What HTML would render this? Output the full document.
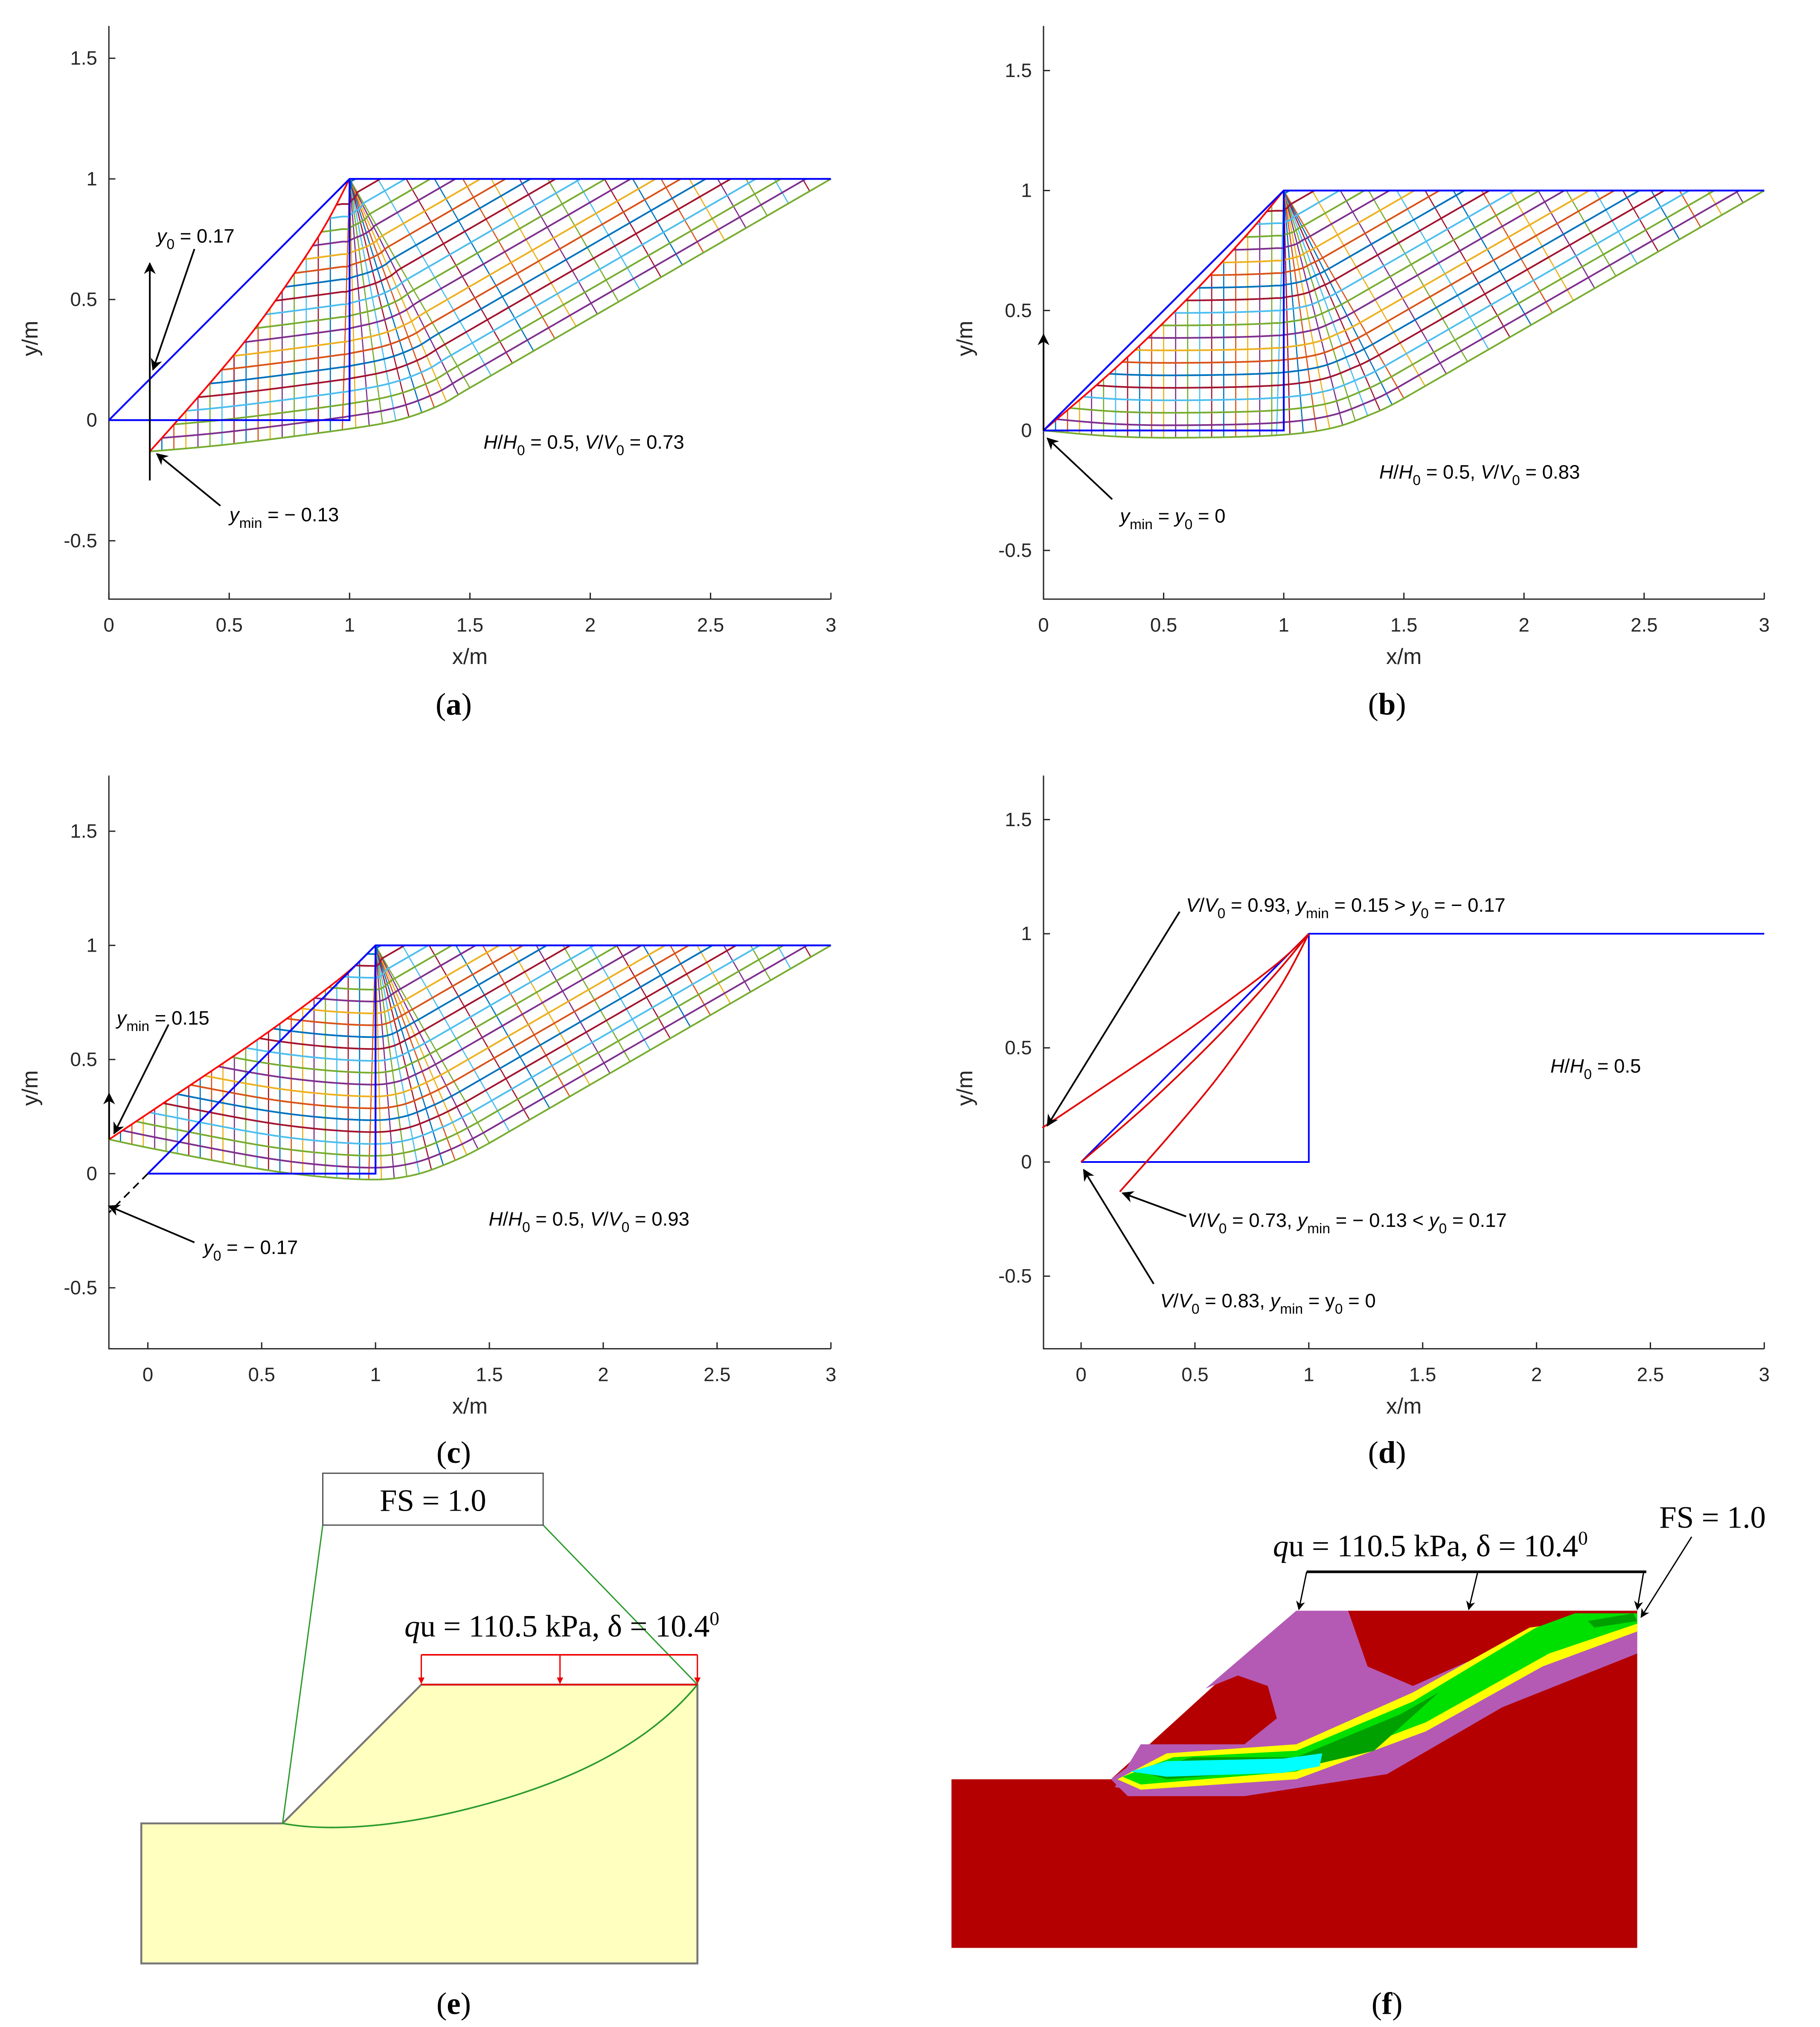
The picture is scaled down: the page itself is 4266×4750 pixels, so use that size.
<!DOCTYPE html>
<html><head><meta charset="utf-8"><style>
html,body{margin:0;padding:0;background:#fff}
svg{display:block}
text{font-family:"Liberation Sans",sans-serif}
.serif{font-family:"Liberation Serif",serif}
</style></head>
<body>
<svg id="fig" xmlns="http://www.w3.org/2000/svg" width="4266" height="4750" viewBox="0 0 1404 1563" preserveAspectRatio="none">
<defs>
<marker id="ah" viewBox="0 0 10 10" refX="9" refY="5" markerWidth="7" markerHeight="7" orient="auto-start-reverse"><path d="M0,0 L10,5 L0,10 L3,5 z" fill="#000"/></marker>
<marker id="ahr" viewBox="0 0 10 10" refX="9" refY="5" markerWidth="5" markerHeight="5" orient="auto"><path d="M0,0 L10,5 L0,10 z" fill="#e00"/></marker>
</defs>
<g id="charts"></g>
<g id="panel-e">
  <polygon points="109,1406 218,1406 325,1299 538,1299 538,1514 109,1514" fill="#FFFFC0" stroke="#777" stroke-width="1.5"/>
  <path d="M218,1406 C250,1412 300,1410 360,1395 C440,1375 500,1345 538,1299" fill="none" stroke="#2a9a2a" stroke-width="1.2"/>
  <line x1="249" y1="1176" x2="218" y2="1406" stroke="#2a9a2a" stroke-width="1"/>
  <line x1="419" y1="1176" x2="538" y2="1299" stroke="#2a9a2a" stroke-width="1"/>
  <rect x="249" y="1136" width="170" height="40" fill="#fff" stroke="#555" stroke-width="1"/>
  <text class="serif" x="334" y="1165" font-size="24" text-anchor="middle">FS = 1.0</text>
  <line x1="325" y1="1276" x2="538" y2="1276" stroke="#e00" stroke-width="1.2"/>
  <line x1="325" y1="1276" x2="325" y2="1298" stroke="#e00" marker-end="url(#ahr)"/>
  <line x1="432" y1="1276" x2="432" y2="1298" stroke="#e00" marker-end="url(#ahr)"/>
  <line x1="538" y1="1276" x2="538" y2="1298" stroke="#e00" marker-end="url(#ahr)"/>
  <line x1="325" y1="1299" x2="538" y2="1299" stroke="#e00" stroke-width="1.2"/>
  <text class="serif" x="312" y="1262" font-size="24"><tspan font-style="italic">q</tspan>u = 110.5 kPa, δ = 10.4<tspan font-size="15" dy="-9">0</tspan></text>
</g>
<g id="panel-f">
  <polygon points="734,1372 857,1372 1000,1242 1263,1242 1263,1502 734,1502" fill="#B40000"/>
  <path d="M930,1302 L1000,1242 L1040,1242 L1055,1285 L1090,1300 L1180,1260 L1263,1245 L1263,1275 L1150,1320 L1050,1365 L960,1380 L890,1383 L860,1378 L880,1345 L960,1345 L985,1325 L978,1300 L955,1292 Z" fill="#B45AB4"/>
  <path d="M857,1372 L880,1355 L960,1350 L1060,1335 L1160,1280 L1263,1250 L1263,1265 L1170,1310 L1070,1368 L960,1385 L870,1385 Z" fill="#B45AB4"/>
  <path d="M862,1372 L900,1352 L1000,1345 L1090,1305 L1180,1255 L1263,1244 L1263,1258 L1190,1285 L1100,1335 L1000,1372 L880,1380 Z" fill="#FFFF00"/>
  <path d="M866,1370 L905,1355 L1000,1350 L1090,1312 L1185,1255 L1215,1244 L1263,1244 L1263,1252 L1195,1275 L1100,1328 L1000,1366 L880,1376 Z" fill="#00E000"/>
  <path d="M880,1366 L920,1355 L1000,1355 L1080,1322 L1110,1305 L1060,1350 L1000,1364 L900,1372 Z" fill="#00A000"/>
  <path d="M1225,1250 L1260,1244 L1263,1250 L1230,1255 Z" fill="#00A000"/>
  <path d="M872,1366 L900,1358 L990,1356 L1020,1352 L1018,1362 L990,1367 L900,1370 Z" fill="#00FFFF"/>
  <line x1="1008" y1="1212" x2="1270" y2="1212" stroke="#000" stroke-width="2"/>
  <line x1="1008" y1="1212" x2="1002" y2="1241" stroke="#000" marker-end="url(#ah)"/>
  <line x1="1140" y1="1212" x2="1133" y2="1241" stroke="#000" marker-end="url(#ah)"/>
  <line x1="1268" y1="1212" x2="1263" y2="1241" stroke="#000" marker-end="url(#ah)"/>
  <line x1="1305" y1="1185" x2="1266" y2="1247" stroke="#000" marker-end="url(#ah)"/>
  <text class="serif" x="982" y="1200" font-size="24"><tspan font-style="italic">q</tspan>u = 110.5 kPa, δ = 10.4<tspan font-size="15" dy="-9">0</tspan></text>
  <text class="serif" x="1280" y="1178" font-size="24">FS = 1.0</text>
</g>
<g class="serif" font-size="24">
  <text class="serif" x="350" y="551" text-anchor="middle">(<tspan font-weight="bold">a</tspan>)</text>
  <text class="serif" x="1070" y="551" text-anchor="middle">(<tspan font-weight="bold">b</tspan>)</text>
  <text class="serif" x="350" y="1128" text-anchor="middle">(<tspan font-weight="bold">c</tspan>)</text>
  <text class="serif" x="1070" y="1128" text-anchor="middle">(<tspan font-weight="bold">d</tspan>)</text>
  <text class="serif" x="350" y="1553" text-anchor="middle">(<tspan font-weight="bold">e</tspan>)</text>
  <text class="serif" x="1070" y="1553" text-anchor="middle">(<tspan font-weight="bold">f</tspan>)</text>
</g>
</svg>
<script>
// ---- data ----
const xTicksAB = [0, 0.5, 1, 1.5, 2, 2.5, 3];
const xTicksCD = [0, 0.5, 1, 1.5, 2, 2.5, 3];
const yTicks = [-0.5, 0, 0.5, 1, 1.5];
const slopeOutline = [[0,0],[1,1],[3,1]];
const baseOutline = [[0,0],[1,0],[1,1]];
const crestPoint = [1, 1];
const passiveStart = [1.5, 0.134];
const passiveEnd = [3, 1];
const tangentGuide = [1.8, 0.307];
// panel a
const aTop = [[0.17,-0.13],[0.4,0.13],[0.63,0.41],[0.87,0.76],[1,1]];
const aBottom = [[0.17,-0.13],[0.5,-0.10],[0.97,-0.04],[1.2,0.0],[1.37,0.06],[1.5,0.134]];
// panel b
const bTop = [[0,0],[0.3,0.26],[0.6,0.55],[0.85,0.82],[1,1]];
const bBottom = [[0,0],[0.3,-0.025],[0.6,-0.03],[0.97,-0.02],[1.2,0.01],[1.37,0.07],[1.5,0.134]];
// panel c
const cTop = [[-0.17,0.15],[0.07,0.31],[0.5,0.6],[0.85,0.86],[1,1]];
const cBottom = [[-0.17,0.15],[0.07,0.1],[0.56,0.01],[0.94,-0.025],[1.15,-0.01],[1.33,0.05],[1.5,0.134]];
// panel d curves
const dCurveUpper = [[-0.17,0.15],[0.07,0.31],[0.5,0.6],[0.85,0.86],[1,1]];
const dCurveMid = [[0,0],[0.3,0.26],[0.6,0.55],[0.85,0.82],[1,1]];
const dCurveLower = [[0.17,-0.13],[0.4,0.13],[0.63,0.41],[0.87,0.76],[1,1]];

const COLORS = ['#0072BD','#D95319','#EDB120','#7E2F8E','#77AC30','#4DBEEE','#A2142F'];
const NS = 'http://www.w3.org/2000/svg';
const root = document.getElementById('charts');

function mk(tag, attrs, parent){const e=document.createElementNS(NS,tag);for(const k in attrs)e.setAttribute(k,attrs[k]);parent.appendChild(e);return e;}

function makeAxes(L){
  const sx = v => L.px0 + (v - L.xmin)/(L.xmax - L.xmin)*(L.px1 - L.px0);
  const sy = v => L.py0 - (v - L.ymin)/(L.ymax - L.ymin)*(L.py0 - L.py1);
  return {sx, sy};
}
function drawAxes(g, L, ax, xt){
  const a = mk('path',{d:`M${L.px0},${L.py1} L${L.px0},${L.py0} L${L.px1},${L.py0}`,fill:'none',stroke:'#262626','stroke-width':1},g);
  
  
  xt.forEach(v=>{
    const x=ax.sx(v);
    mk('line',{x1:x,y1:L.py0,x2:x,y2:L.py0-5,stroke:'#262626'},g);
    const t=mk('text',{x:x,y:L.py0+25,'font-size':15,'text-anchor':'middle',fill:'#262626'},g);
    
    
    t.textContent=String(v);
  });
  yTicks.forEach(v=>{
    const y=ax.sy(v);
    mk('line',{x1:L.px0,y1:y,x2:L.px0+5,y2:y,stroke:'#262626'},g);
    const t=mk('text',{x:L.px0-9,y:y+5,'font-size':15,'text-anchor':'end',fill:'#262626'},g);
    
    
    t.textContent=(v<0?'-':'')+String(Math.abs(v));
  });
  const xl=mk('text',{x:(L.px0+L.px1)/2,y:L.py0+50,'font-size':17,'text-anchor':'middle',fill:'#262626'},g);
  
  
  xl.textContent='x/m';
  const yx=L.px0-55, yy=(L.py0+L.py1)/2+20;
  const yl=mk('text',{x:yx,y:yy,'font-size':17,'text-anchor':'middle',fill:'#262626',transform:`rotate(-90 ${yx} ${yy})`},g);
  
  
  yl.textContent='y/m';
}
function poly(g, pts, ax, color, w, name, dash){
  const p=mk('polyline',{points:pts.map(p=>ax.sx(p[0]).toFixed(2)+','+ax.sy(p[1]).toFixed(2)).join(' '),fill:'none',stroke:color,'stroke-width':w||1},g);
  if(dash)p.setAttribute('stroke-dasharray',dash);
  
  
  return p;
}
function smooth(pts,n){
  const out=[];
  for(let i=0;i<pts.length-1;i++){
    const p0=pts[Math.max(i-1,0)],p1=pts[i],p2=pts[i+1],p3=pts[Math.min(i+2,pts.length-1)];
    for(let k=0;k<n;k++){const t=k/n,t2=t*t,t3=t2*t;
      out.push([0,1].map(j=>0.5*((2*p1[j])+(-p0[j]+p2[j])*t+(2*p0[j]-5*p1[j]+4*p2[j]-p3[j])*t2+(-p0[j]+3*p1[j]-3*p2[j]+p3[j])*t3)));}
  }
  out.push(pts[pts.length-1]);return out;
}
function resample(pts,n){
  const d=[0];for(let i=1;i<pts.length;i++)d.push(d[i-1]+Math.hypot(pts[i][0]-pts[i-1][0],pts[i][1]-pts[i-1][1]));
  const T=d[d.length-1],out=[];
  for(let k=0;k<n;k++){const s=T*k/(n-1);let i=1;while(i<d.length-1&&d[i]<s)i++;
    const f=(s-d[i-1])/((d[i]-d[i-1])||1);out.push([pts[i-1][0]+f*(pts[i][0]-pts[i-1][0]),pts[i-1][1]+f*(pts[i][1]-pts[i-1][1])]);}
  return out;
}
function yAt(c,x){
  if(x<=c[0][0])return c[0][1];
  for(let i=1;i<c.length;i++){if(c[i][0]>=x){const f=(x-c[i-1][0])/((c[i][0]-c[i-1][0])||1);return c[i-1][1]+f*(c[i][1]-c[i-1][1]);}}
  return c[c.length-1][1];
}
function mesh(g, ax, top, bottom){
  const C=crestPoint,P=passiveStart,E=passiveEnd;
  const R=smooth(top,12);
  const Bc=smooth(bottom.concat([tangentGuide]),12).filter(p=>p[0]<=P[0]+1e-9);
  if(Bc[Bc.length-1][0]<P[0]-1e-9)Bc.push(P);
  const toeX=bottom[0][0], xw=0.97, step=0.05, dStep=0.052;
  const L0=Math.hypot(E[0]-P[0],E[1]-P[1]);
  const dir=[(E[0]-P[0])/L0,(E[1]-P[1])/L0], nrm=[-dir[1],dir[0]];
  const fanPts=[[xw,yAt(Bc,xw)]].concat(Bc.filter(p=>p[0]>xw));
  const fanRays=resample(fanPts,11);
  const fanFine=resample(fanPts,60);
  let ci=0;
  for(let x=toeX+step;x<xw-0.005;x+=step){
    const yt=yAt(R,x),yb=yAt(Bc,x);
    if(yt>yb)poly(g,[[x,yt],[x,yb]],ax,COLORS[(ci++)%7],0.9,'mesh-wedge-line');
  }
  fanRays.forEach(b=>{poly(g,[C,b],ax,COLORS[(ci++)%7],0.9,'mesh-fan-ray');});
  const nP=17;
  for(let j=1;j<nP;j++){
    const b=[P[0]+(E[0]-P[0])*j/nP,P[1]+(E[1]-P[1])*j/nP];
    const len=(1-b[1])/nrm[1];
    poly(g,[b,[b[0]+nrm[0]*len,1]],ax,COLORS[(ci++)%7],0.9,'mesh-passive-line');
  }
  const K=Math.floor(1.05/dStep);
  for(let k=1;k<=K;k++){
    const d=k*dStep,pts=[];
    let prevIn=false,prev=null;
    for(let x=toeX;x<=xw+1e-9;x+=0.01){
      const yb=yAt(Bc,x)+d,yr=yAt(R,x);
      const inside=yb<=yr;
      if(inside&&!prevIn&&prev){const f=prev.diff/(prev.diff-(yr-yb));pts.push([prev.x+f*0.01,prev.yb+f*(yb-prev.yb)]);}
      if(inside)pts.push([x,yb]);
      prevIn=inside;prev={x:x,yb:yb,diff:yr-yb};
    }
    fanFine.forEach(b=>{const L=Math.hypot(C[0]-b[0],C[1]-b[1]);if(d<L)pts.push([b[0]+(C[0]-b[0])*d/L,b[1]+(C[1]-b[1])*d/L]);});
    for(let t=0;t<=1.0001;t+=0.02){
      const b=[P[0]+(E[0]-P[0])*t,P[1]+(E[1]-P[1])*t];
      const q=[b[0]+nrm[0]*d,b[1]+nrm[1]*d];
      if(q[1]<=1)pts.push(q);else{const last=pts[pts.length-1];if(last){const f=(1-last[1])/(q[1]-last[1]);pts.push([last[0]+f*(q[0]-last[0]),1]);}break;}
    }
    if(pts.length>1)poly(g,pts,ax,COLORS[(k+2)%7],1.3,'mesh-cross-line');
  }
  poly(g,Bc.concat([E]),ax,'#77AC30',1.3,'slip-boundary');
  poly(g,R,ax,'#ff0000',1.3,'wedge-boundary');
}
function label(g,x,y,html,name){
  const t=mk('text',{x:x,y:y,'font-size':15,fill:'#000'},g);
  
  
  t.innerHTML=html;return t;
}
function arrow(g,x1,y1,x2,y2,name,dash){
  const l=mk('line',{x1,y1,x2,y2,stroke:'#000','stroke-width':1.3,'marker-end':'url(#ah)'},g);
  if(dash)l.setAttribute('stroke-dasharray',dash);
  
  
}
const I=s=>`<tspan font-style="italic">${s}</tspan>`, S=s=>`<tspan font-size="11" dy="5">${s}</tspan><tspan dy="-5"> </tspan>`;

// panel a
{const g=mk('g',{},root);
 const L={px0:84,px1:641,py0:462,py1:20,xmin:0,xmax:3,ymin:-0.742,ymax:1.634};const ax=makeAxes(L);
 drawAxes(g,L,ax,xTicksAB);
 mesh(g,ax,aTop,aBottom);
 poly(g,slopeOutline,ax,'#0000ff',1.4,'slope-outline');
 poly(g,baseOutline,ax,'#0000ff',1.4,'base-outline');
 arrow(g,ax.sx(0.17),ax.sy(-0.25),ax.sx(0.17),ax.sy(0.65),'y0-arrow');
 arrow(g,150,192,118,285,'y0-pointer');
 arrow(g,170,390,121,350,'ymin-pointer');
 label(g,121,187,`${I('y')}${S('0')}= 0.17`,'y0-label');
 label(g,177,402,`${I('y')}${S('min')}= − 0.13`,'ymin-label');
 label(g,373,346,`${I('H')}/${I('H')}${S('0')}= 0.5,  ${I('V')}/${I('V')}${S('0')}= 0.73`,'ratio-label');
}
// panel b
{const g=mk('g',{},root);
 const L={px0:805,px1:1361,py0:462,py1:20,xmin:0,xmax:3,ymin:-0.703,ymax:1.686};const ax=makeAxes(L);
 drawAxes(g,L,ax,xTicksAB);
 mesh(g,ax,bTop,bBottom);
 poly(g,slopeOutline,ax,'#0000ff',1.4,'slope-outline');
 poly(g,baseOutline,ax,'#0000ff',1.4,'base-outline');
 arrow(g,805,332,805,258,'y0-arrow');
 arrow(g,858,385,808,338,'ymin-pointer');
 label(g,864,403,`${I('y')}${S('min')}= ${I('y')}${S('0')}= 0`,'ymin-label');
 label(g,1064,369,`${I('H')}/${I('H')}${S('0')}= 0.5,  ${I('V')}/${I('V')}${S('0')}= 0.83`,'ratio-label');
}
// panel c
{const g=mk('g',{},root);
 const L={px0:84,px1:641,py0:1040,py1:598,xmin:-0.171,xmax:3,ymin:-0.767,ymax:1.744};const ax=makeAxes(L);
 drawAxes(g,L,ax,xTicksCD);
 mesh(g,ax,cTop,cBottom);
 poly(g,slopeOutline,ax,'#0000ff',1.4,'slope-outline');
 poly(g,baseOutline,ax,'#0000ff',1.4,'base-outline');
 poly(g,[[0,0],[-0.17,-0.17]],ax,'#000',1.2,'dashed-extension','6,4');
 arrow(g,ax.sx(-0.17),ax.sy(0.15),ax.sx(-0.17),ax.sy(0.35),'ymin-arrow');
 arrow(g,130,790,88,874,'ymin-pointer');
 arrow(g,150,958,84,930,'y0-pointer');
 label(g,90,790,`${I('y')}${S('min')}= 0.15`,'ymin-label');
 label(g,157,967,`${I('y')}${S('0')}= − 0.17`,'y0-label');
 label(g,377,945,`${I('H')}/${I('H')}${S('0')}= 0.5,  ${I('V')}/${I('V')}${S('0')}= 0.93`,'ratio-label');
}
// panel d
{const g=mk('g',{},root);
 const L={px0:805,px1:1361,py0:1040,py1:598,xmin:-0.165,xmax:3,ymin:-0.818,ymax:1.693};const ax=makeAxes(L);
 drawAxes(g,L,ax,xTicksCD);
 poly(g,slopeOutline,ax,'#0000ff',1.3,'slope-outline');
 poly(g,baseOutline,ax,'#0000ff',1.3,'base-outline');
 poly(g,smooth(dCurveUpper,10),ax,'#e00000',1.3,'curve-v093');
 poly(g,smooth(dCurveMid,10),ax,'#e00000',1.3,'curve-v083');
 poly(g,smooth(dCurveLower,10),ax,'#e00000',1.3,'curve-v073');
 arrow(g,910,703,808,868,'v093-pointer');
 arrow(g,915,938,866,920,'v073-pointer');
 arrow(g,890,990,836,902,'v083-pointer');
 label(g,915,703,`${I('V')}/${I('V')}${S('0')}= 0.93, ${I('y')}${S('min')}= 0.15 &gt; ${I('y')}${S('0')}= − 0.17`,'v093-label');
 label(g,916,946,`${I('V')}/${I('V')}${S('0')}= 0.73, ${I('y')}${S('min')}= − 0.13 &lt; ${I('y')}${S('0')}= 0.17`,'v073-label');
 label(g,895,1008,`${I('V')}/${I('V')}${S('0')}= 0.83, ${I('y')}${S('min')}= y${S('0')}= 0`,'v083-label');
 label(g,1196,827,`${I('H')}/${I('H')}${S('0')}= 0.5`,'ratio-label');
}
</script>
</body></html>
